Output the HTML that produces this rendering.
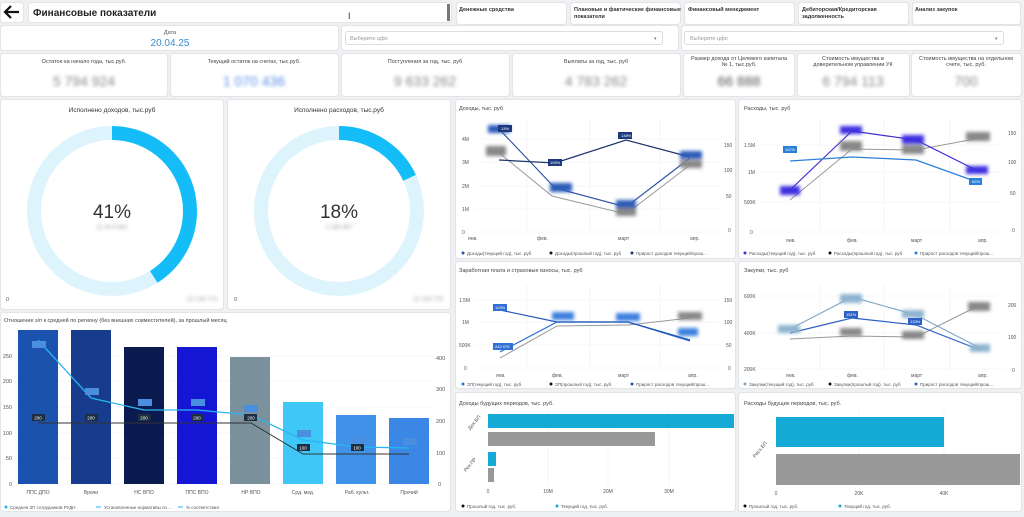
<!DOCTYPE html>
<html><head><meta charset="utf-8"><style>
body{margin:0;width:1024px;height:512px;overflow:hidden;background:#eef0f2;font-family:"Liberation Sans",sans-serif}
svg text{font-family:"Liberation Sans","Noto Sans CJK SC",sans-serif}
</style></head><body>
<svg width="1024" height="512" viewBox="0 0 1024 512" xmlns="http://www.w3.org/2000/svg">
<defs><filter id="b" x="-20%" y="-50%" width="140%" height="200%"><feGaussianBlur stdDeviation="1.8"/></filter></defs>
<g fill="#fff" stroke="#e2e4e8" stroke-width="1">
<rect x="0.5" y="2.5" width="23" height="20" rx="3"/>
<rect x="28.5" y="2.5" width="423" height="20" rx="3"/>
<rect x="456.5" y="2.5" width="110" height="22" rx="3"/>
<rect x="570.5" y="2.5" width="110" height="22" rx="3"/>
<rect x="684.5" y="2.5" width="110" height="22" rx="3"/>
<rect x="798.5" y="2.5" width="110" height="22" rx="3"/>
<rect x="912.5" y="2.5" width="108" height="22" rx="3"/>
<rect x="0.5" y="25.5" width="338" height="25" rx="3"/>
<rect x="341.5" y="25.5" width="337" height="25" rx="3"/>
<rect x="681.5" y="25.5" width="340" height="25" rx="3"/>
<rect x="0.5" y="53.5" width="167" height="43" rx="3"/>
<rect x="170.5" y="53.5" width="168" height="43" rx="3"/>
<rect x="341.5" y="53.5" width="168" height="43" rx="3"/>
<rect x="512.5" y="53.5" width="168" height="43" rx="3"/>
<rect x="683.5" y="53.5" width="111" height="43" rx="3"/>
<rect x="797.5" y="53.5" width="112" height="43" rx="3"/>
<rect x="911.5" y="53.5" width="110" height="43" rx="3"/>
<rect x="0.5" y="99.5" width="223" height="210" rx="3"/>
<rect x="227.5" y="99.5" width="223" height="210" rx="3"/>
<rect x="0.5" y="312.5" width="450" height="199" rx="3"/>
<rect x="455.5" y="99.5" width="280" height="159" rx="3"/>
<rect x="738.5" y="99.5" width="283" height="159" rx="3"/>
<rect x="455.5" y="261.5" width="280" height="127" rx="3"/>
<rect x="738.5" y="261.5" width="283" height="127" rx="3"/>
<rect x="455.5" y="392.5" width="280" height="119" rx="3"/>
<rect x="738.5" y="392.5" width="283" height="119" rx="3"/>
</g>
<!-- header -->
<path d="M19 12 H5 M11 6 L5 12 L11 18" stroke="#111" stroke-width="2.2" fill="none"/>
<text x="33" y="16" font-size="10" font-weight="bold" fill="#222">Финансовые показатели</text>
<rect x="447" y="4" width="3" height="17" fill="#777"/>
<text x="348" y="19" font-size="9" fill="#333">I</text>
<g font-size="5.5" fill="#333" font-weight="bold">
<text x="459" y="11">Денежные средства</text>
<text x="574" y="11">Плановые и фактические финансовые</text><text x="574" y="18">показатели</text>
<text x="688" y="11">Финансовый менеджмент</text>
<text x="802" y="11">Дебиторская/Кредиторская</text><text x="802" y="18">задолженность</text>
<text x="915" y="11">Анализ закупок</text>
</g>
<text x="170" y="34" font-size="5.5" fill="#555" text-anchor="middle">Дата</text>
<text x="170" y="46" font-size="10" fill="#3a8dc9" text-anchor="middle">20.04.25</text>
<rect x="345.5" y="31.5" width="317" height="13" rx="2" fill="#fff" stroke="#ddd"/>
<text x="350" y="40" font-size="5.5" fill="#999">Выберите цфо</text><text x="654" y="40" font-size="5" fill="#777">▾</text>
<rect x="684.5" y="31.5" width="319" height="13" rx="2" fill="#fff" stroke="#ddd"/>
<text x="690" y="40" font-size="5.5" fill="#999">Выберите цфо</text><text x="995" y="40" font-size="5" fill="#777">▾</text>
<!-- KPI -->
<g font-size="5.5" fill="#444" text-anchor="middle">
<text x="84" y="63">Остаток на начало года, тыс.руб.</text>
<text x="254" y="63">Текущий остаток на счетах, тыс.руб.</text>
<text x="425" y="63">Поступления за год, тыс. руб</text>
<text x="596" y="63">Выплаты за год, тыс. руб</text>
<text x="739" y="60">Размер дохода от Целевого капитала</text><text x="739" y="66">№ 1, тыс.руб.</text>
<text x="853" y="60">Стоимость имущества в</text><text x="853" y="66">доверительном управлении УК</text>
<text x="966" y="60">Стоимость имущества на отдельном</text><text x="966" y="66">счете, тыс. руб.</text>
</g>
<g filter="url(#b)" font-size="14" text-anchor="middle">
<text x="84" y="86" fill="#888">5 794 924</text>
<text x="254" y="86" fill="#5b8fe8">1 070 436</text>
<text x="425" y="86" fill="#888">9 633 262</text>
<text x="596" y="86" fill="#888">4 783 262</text>
<text x="739" y="86" fill="#555">66 888</text>
<text x="853" y="86" fill="#888">6 794 113</text>
<text x="966" y="86" fill="#888">700</text>
</g>
<!-- donuts -->
<text x="112" y="112" font-size="6.5" fill="#333" text-anchor="middle">Исполнено доходов, тыс.руб</text>
<text x="339" y="112" font-size="6.5" fill="#333" text-anchor="middle">Исполнено расходов, тыс.руб</text>
<circle cx="112" cy="211" r="78" fill="none" stroke="#def4fd" stroke-width="14"/>
<circle cx="112" cy="211" r="78" fill="none" stroke="#14bdf7" stroke-width="14" stroke-dasharray="200.9 490" transform="rotate(-90 112 211)"/>
<circle cx="339" cy="211" r="78" fill="none" stroke="#def4fd" stroke-width="14"/>
<circle cx="339" cy="211" r="78" fill="none" stroke="#14bdf7" stroke-width="14" stroke-dasharray="88.2 490" transform="rotate(-90 339 211)"/>
<text x="112" y="218" font-size="19" fill="#333" text-anchor="middle">41%</text>
<text x="339" y="218" font-size="19" fill="#333" text-anchor="middle">18%</text>
<g filter="url(#b)" font-size="6" fill="#999" text-anchor="middle">
<text x="112" y="229">11 20 5 802</text><text x="339" y="229">2 193 357</text>
<text x="202" y="301">22 133 773</text><text x="428" y="301">22 133 773</text>
</g>
<text x="6" y="301" font-size="5.5" fill="#555">0</text><text x="234" y="301" font-size="5.5" fill="#555">0</text>
<!-- bar chart -->
<text x="4" y="322" font-size="5.5" fill="#444">Отношение з/п к средней по региону (без внешних совместителей), за прошлый месяц</text>
<g stroke="#eceff2" stroke-width="0.6">
<line x1="15" y1="484" x2="432" y2="484"/><line x1="15" y1="458" x2="432" y2="458"/><line x1="15" y1="433" x2="432" y2="433"/><line x1="15" y1="407" x2="432" y2="407"/><line x1="15" y1="381" x2="432" y2="381"/><line x1="15" y1="356" x2="432" y2="356"/>
</g>
<g font-size="5.5" fill="#555" text-anchor="end">
<text x="12" y="486">0</text><text x="12" y="460">50</text><text x="12" y="435">100</text><text x="12" y="409">150</text><text x="12" y="383">200</text><text x="12" y="358">250</text>
</g>
<g font-size="5.5" fill="#555">
<text x="438" y="486">0</text><text x="436" y="455">100</text><text x="436" y="423">200</text><text x="436" y="391">300</text><text x="436" y="360">400</text>
</g>
<rect x="18" y="330" width="40" height="154" fill="#1a52ad"/>
<rect x="71" y="330" width="40" height="154" fill="#173c8e"/>
<rect x="124" y="347" width="40" height="137" fill="#0b1a4f"/>
<rect x="177" y="347" width="40" height="137" fill="#1515d4"/>
<rect x="230" y="357" width="40" height="127" fill="#7b919c"/>
<rect x="283" y="402" width="40" height="82" fill="#3fc8f7"/>
<rect x="336" y="415" width="40" height="69" fill="#4193ea"/>
<rect x="389" y="418" width="40" height="66" fill="#3b87e6"/>
<polyline points="38,423 251,423 303,454 409,454" fill="none" stroke="#333" stroke-width="1"/>
<polyline points="38,340 91,398 144,410 197,410 251,415 303,440 357,447 409,448" fill="none" stroke="#29b6f0" stroke-width="1.3"/>
<g font-size="4.5" fill="#fff" text-anchor="middle">
<rect x="32" y="414" width="13" height="7" fill="#1c2e40"/><text x="38" y="419.5">200</text>
<rect x="85" y="414" width="13" height="7" fill="#1c2e40"/><text x="91" y="419.5">200</text>
<rect x="138" y="414" width="13" height="7" fill="#1c2e40"/><text x="144" y="419.5">200</text>
<rect x="191" y="414" width="13" height="7" fill="#1c2e40"/><text x="197" y="419.5">200</text>
<rect x="244" y="414" width="13" height="7" fill="#1c2e40"/><text x="251" y="419.5">200</text>
<rect x="297" y="444" width="13" height="7" fill="#1c2e40"/><text x="303" y="449.5">100</text>
<rect x="351" y="444" width="13" height="7" fill="#1c2e40"/><text x="357" y="449.5">100</text>
<g fill="#4a8ee0"><rect x="32" y="341" width="14" height="7"/><rect x="85" y="388" width="14" height="7"/><rect x="138" y="399" width="14" height="7"/><rect x="191" y="399" width="14" height="7"/><rect x="244" y="405" width="14" height="7"/><rect x="297" y="430" width="14" height="7"/><rect x="351" y="437" width="14" height="7"/><rect x="403" y="438" width="14" height="7"/></g>
</g>
<g font-size="5" fill="#555" text-anchor="middle">
<text x="38" y="494">ППС ДПО</text><text x="91" y="494">Врачи</text><text x="144" y="494">НС ВПО</text><text x="197" y="494">ППС ВПО</text><text x="251" y="494">НР ВПО</text><text x="303" y="494">Срд. мед.</text><text x="357" y="494">Раб. культ.</text><text x="409" y="494">Прочий</text>
</g>
<g font-size="4.5" fill="#555">
<circle cx="6" cy="507" r="1.5" fill="#29b6f0"/><text x="10" y="509">Средняя ЗП сотрудников РУДН</text>
<line x1="96" y1="507" x2="101" y2="507" stroke="#29b6f0"/><text x="104" y="509">Установленные нормативы по ...</text>
<line x1="178" y1="507" x2="183" y2="507" stroke="#29b6f0"/><text x="186" y="509">% соответствия</text>
</g>
<g font-size="5" fill="#555">
<!-- Доходы -->
<text x="459" y="110" font-size="5.5" fill="#444">Доходы, тыс. руб</text>
<g stroke="#eef0f2" stroke-width="0.6"><line x1="475" y1="232" x2="720" y2="232"/><line x1="475" y1="209" x2="720" y2="209"/><line x1="475" y1="186" x2="720" y2="186"/><line x1="475" y1="162" x2="720" y2="162"/><line x1="475" y1="139" x2="720" y2="139"/><line x1="527" y1="118" x2="527" y2="232"/><line x1="590" y1="118" x2="590" y2="232"/><line x1="660" y1="118" x2="660" y2="232"/></g>
<text x="462" y="141">4M</text><text x="462" y="164">3M</text><text x="462" y="188">2M</text><text x="462" y="211">1M</text><text x="462" y="234">0</text>
<text x="724" y="147">150</text><text x="724" y="172">100</text><text x="726" y="198">50</text><text x="728" y="232">0</text>
<text x="468" y="240">янв.</text><text x="537" y="240">фев.</text><text x="618" y="240">март</text><text x="690" y="240">апр.</text>
<polyline points="498,152 552,196 626,214 690,165" fill="none" stroke="#999" stroke-width="1"/>
<polyline points="500,130 555,188 626,207 690,158" fill="none" stroke="#2c54a8" stroke-width="1.2"/>
<polyline points="499,160 555,163 626,140 690,157" fill="none" stroke="#1f356e" stroke-width="1.2"/>
<g filter="url(#b)"><rect x="488" y="125" width="22" height="8" fill="#2c5bb8"/><rect x="486" y="146" width="20" height="10" fill="#888"/><rect x="550" y="183" width="22" height="9" fill="#2c5bb8"/><rect x="616" y="200" width="20" height="8" fill="#2c5bb8"/><rect x="616" y="208" width="20" height="8" fill="#888"/><rect x="680" y="151" width="22" height="8" fill="#2c5bb8"/><rect x="680" y="160" width="22" height="8" fill="#888"/></g>
<rect x="498" y="125" width="14" height="7" fill="#1c3a80"/><rect x="548" y="159" width="14" height="7" fill="#1c3a80"/><rect x="618" y="132" width="14" height="7" fill="#1c3a80"/>
<g font-size="4" fill="#fff"><text x="501" y="130">13%</text><text x="550" y="164">105%</text><text x="621" y="137">138%</text></g>
<g font-size="4.5"><circle cx="463" cy="253" r="1.5" fill="#2c54a8"/><text x="467" y="255">Доходы(текущий год), тыс. руб</text><circle cx="551" cy="253" r="1.5" fill="#111"/><text x="555" y="255">Доходы(прошлый год), тыс. руб</text><circle cx="632" cy="253" r="1.5" fill="#1f356e"/><text x="636" y="255">Прирост доходов текущий/прош...</text></g>
<!-- Расходы -->
<text x="744" y="110" font-size="5.5" fill="#444">Расходы, тыс. руб</text>
<g stroke="#eef0f2" stroke-width="0.6"><line x1="760" y1="232" x2="1000" y2="232"/><line x1="760" y1="202" x2="1000" y2="202"/><line x1="760" y1="172" x2="1000" y2="172"/><line x1="760" y1="145" x2="1000" y2="145"/><line x1="820" y1="118" x2="820" y2="232"/><line x1="884" y1="118" x2="884" y2="232"/><line x1="950" y1="118" x2="950" y2="232"/></g>
<text x="744" y="147">1.5M</text><text x="748" y="174">1M</text><text x="744" y="204">500K</text><text x="750" y="234">0</text>
<text x="1008" y="135">150</text><text x="1008" y="164">100</text><text x="1010" y="195">50</text><text x="1012" y="232">0</text>
<text x="786" y="242">янв.</text><text x="847" y="242">фев.</text><text x="911" y="242">март</text><text x="978" y="242">апр.</text>
<polyline points="790,200 852,149 916,150 980,138" fill="none" stroke="#999" stroke-width="1"/>
<polyline points="790,190 852,131 916,140 980,172" fill="none" stroke="#3d2fd0" stroke-width="1.2"/>
<polyline points="790,161 852,157 916,160 980,183" fill="none" stroke="#2a7fd8" stroke-width="1.2"/>
<g filter="url(#b)"><rect x="780" y="186" width="20" height="9" fill="#3d2fe0"/><rect x="840" y="126" width="22" height="8" fill="#3d2fe0"/><rect x="840" y="141" width="22" height="10" fill="#888"/><rect x="902" y="135" width="22" height="9" fill="#3d2fe0"/><rect x="902" y="145" width="22" height="9" fill="#888"/><rect x="966" y="166" width="22" height="8" fill="#3d2fe0"/><rect x="966" y="132" width="24" height="9" fill="#888"/></g>
<rect x="783" y="146" width="14" height="7" fill="#2a7fd8"/><rect x="969" y="178" width="13" height="7" fill="#2a7fd8"/>
<g font-size="4" fill="#fff"><text x="785" y="151">112%</text><text x="972" y="183">62%</text></g>
<g font-size="4.5"><circle cx="745" cy="253" r="1.5" fill="#3d2fd0"/><text x="749" y="255">Расходы(текущий год), тыс. руб</text><circle cx="830" cy="253" r="1.5" fill="#111"/><text x="834" y="255">Расходы(прошлый год), тыс. руб</text><circle cx="916" cy="253" r="1.5" fill="#2a7fd8"/><text x="920" y="255">Прирост расходов текущий/прош...</text></g>
<!-- ЗП -->
<text x="459" y="272" font-size="5.5" fill="#444">Заработная плата и страховые взносы, тыс. руб</text>
<g stroke="#eef0f2" stroke-width="0.6"><line x1="475" y1="368" x2="720" y2="368"/><line x1="475" y1="345" x2="720" y2="345"/><line x1="475" y1="322" x2="720" y2="322"/><line x1="475" y1="300" x2="720" y2="300"/><line x1="527" y1="285" x2="527" y2="368"/><line x1="590" y1="285" x2="590" y2="368"/><line x1="660" y1="285" x2="660" y2="368"/></g>
<text x="459" y="302">1.5M</text><text x="462" y="324">1M</text><text x="459" y="347">500K</text><text x="464" y="370">0</text>
<text x="724" y="302">150</text><text x="724" y="324">100</text><text x="726" y="347">50</text><text x="728" y="370">0</text>
<text x="496" y="377">янв.</text><text x="552" y="377">фев.</text><text x="618" y="377">март</text><text x="688" y="377">апр.</text>
<polyline points="500,358 557,326 628,325 690,318" fill="none" stroke="#999" stroke-width="1"/>
<polyline points="500,352 557,322 628,322 690,341" fill="none" stroke="#2f6fd6" stroke-width="1.2"/>
<polyline points="500,310 557,322 628,322 690,340" fill="none" stroke="#2456b8" stroke-width="1.2"/>
<g filter="url(#b)"><rect x="552" y="312" width="22" height="8" fill="#3c80e0"/><rect x="616" y="313" width="24" height="8" fill="#3c80e0"/><rect x="678" y="312" width="24" height="8" fill="#888"/><rect x="678" y="328" width="20" height="8" fill="#3c80e0"/></g>
<rect x="493" y="304" width="14" height="7" fill="#2f6fd6"/><rect x="493" y="343" width="20" height="7" fill="#2f6fd6"/>
<g font-size="4" fill="#fff"><text x="495" y="309">124%</text><text x="495" y="348">242 075</text></g>
<g font-size="4.5"><circle cx="463" cy="384" r="1.5" fill="#2f6fd6"/><text x="467" y="386">ЗП(текущий год), тыс. руб</text><circle cx="551" cy="384" r="1.5" fill="#111"/><text x="555" y="386">ЗП(прошлый год), тыс. руб</text><circle cx="632" cy="384" r="1.5" fill="#2456b8"/><text x="636" y="386">Прирост расходов текущий/прош...</text></g>
<!-- Закупки -->
<text x="744" y="272" font-size="5.5" fill="#444">Закупки, тыс. руб</text>
<g stroke="#eef0f2" stroke-width="0.6"><line x1="760" y1="369" x2="1005" y2="369"/><line x1="760" y1="333" x2="1005" y2="333"/><line x1="760" y1="296" x2="1005" y2="296"/><line x1="820" y1="285" x2="820" y2="369"/><line x1="884" y1="285" x2="884" y2="369"/><line x1="950" y1="285" x2="950" y2="369"/></g>
<text x="744" y="298">600K</text><text x="744" y="335">400K</text><text x="744" y="371">200K</text>
<text x="1008" y="307">200</text><text x="1008" y="339">100</text><text x="1012" y="372">0</text>
<text x="786" y="377">янв.</text><text x="847" y="377">фев.</text><text x="911" y="377">март</text><text x="978" y="377">апр.</text>
<polyline points="790,339 852,336 916,337 980,305" fill="none" stroke="#999" stroke-width="1"/>
<polyline points="790,329 852,297 916,315 980,348" fill="none" stroke="#7fa8c8" stroke-width="1.2"/>
<polyline points="790,333 852,318 916,325 980,350" fill="none" stroke="#2d62c4" stroke-width="1.2"/>
<g filter="url(#b)"><rect x="778" y="325" width="22" height="8" fill="#8fb4cf"/><rect x="840" y="294" width="22" height="9" fill="#8fb4cf"/><rect x="902" y="310" width="22" height="8" fill="#8fb4cf"/><rect x="840" y="328" width="22" height="8" fill="#888"/><rect x="902" y="331" width="22" height="8" fill="#888"/><rect x="968" y="302" width="22" height="9" fill="#888"/><rect x="970" y="344" width="20" height="8" fill="#8fb4cf"/></g>
<rect x="844" y="311" width="14" height="7" fill="#2d62c4"/><rect x="908" y="318" width="14" height="7" fill="#2d62c4"/>
<g font-size="4" fill="#fff"><text x="846" y="316">151%</text><text x="910" y="323">133%</text></g>
<g font-size="4.5"><circle cx="745" cy="384" r="1.5" fill="#7fa8c8"/><text x="749" y="386">Закупки(текущий год), тыс. руб</text><circle cx="830" cy="384" r="1.5" fill="#111"/><text x="834" y="386">Закупки(прошлый год), тыс. руб</text><circle cx="916" cy="384" r="1.5" fill="#2d62c4"/><text x="920" y="386">Прирост расходов текущий/прош...</text></g>
<!-- Доходы будущих -->
<text x="459" y="405" font-size="5.5" fill="#444">Доходы будущих периодов, тыс. руб.</text>
<g stroke="#eef0f2" stroke-width="0.6"><line x1="548" y1="410" x2="548" y2="486"/><line x1="608" y1="410" x2="608" y2="486"/><line x1="669" y1="410" x2="669" y2="486"/></g>
<rect x="488" y="414" width="246" height="14" fill="#15a9d6"/><rect x="488" y="432" width="167" height="14" fill="#999"/>
<rect x="488" y="452" width="8" height="14" fill="#15a9d6"/><rect x="488" y="468" width="6" height="14" fill="#999"/>
<text x="488" y="493" text-anchor="middle">0</text><text x="548" y="493" text-anchor="middle">10M</text><text x="608" y="493" text-anchor="middle">20M</text><text x="669" y="493" text-anchor="middle">30M</text>
<text x="470" y="430" transform="rotate(-50 470 430)">Дох.БП</text><text x="466" y="472" transform="rotate(-50 466 472)">Рех.ПР</text>
<g font-size="4.5"><circle cx="463" cy="506" r="1.5" fill="#111"/><text x="467" y="508">Прошлый год, тыс. руб.</text><circle cx="557" cy="506" r="1.5" fill="#15a9d6"/><text x="561" y="508">Текущий год, тыс. руб.</text></g>
<!-- Расходы будущих -->
<text x="744" y="405" font-size="5.5" fill="#444">Расходы будущих периодов, тыс. руб.</text>
<g stroke="#eef0f2" stroke-width="0.6"><line x1="859" y1="410" x2="859" y2="486"/><line x1="944" y1="410" x2="944" y2="486"/></g>
<rect x="776" y="417" width="168" height="30" fill="#15a9d6"/><rect x="776" y="454" width="244" height="31" fill="#999"/>
<text x="776" y="495" text-anchor="middle">0</text><text x="859" y="495" text-anchor="middle">20K</text><text x="944" y="495" text-anchor="middle">40K</text>
<text x="755" y="458" transform="rotate(-50 755 458)">Расх.БП</text>
<g font-size="4.5"><circle cx="745" cy="506" r="1.5" fill="#111"/><text x="749" y="508">Прошлый год, тыс. руб.</text><circle cx="840" cy="506" r="1.5" fill="#15a9d6"/><text x="844" y="508">Текущий год, тыс. руб.</text></g>
</g>
</svg>
</body></html>
